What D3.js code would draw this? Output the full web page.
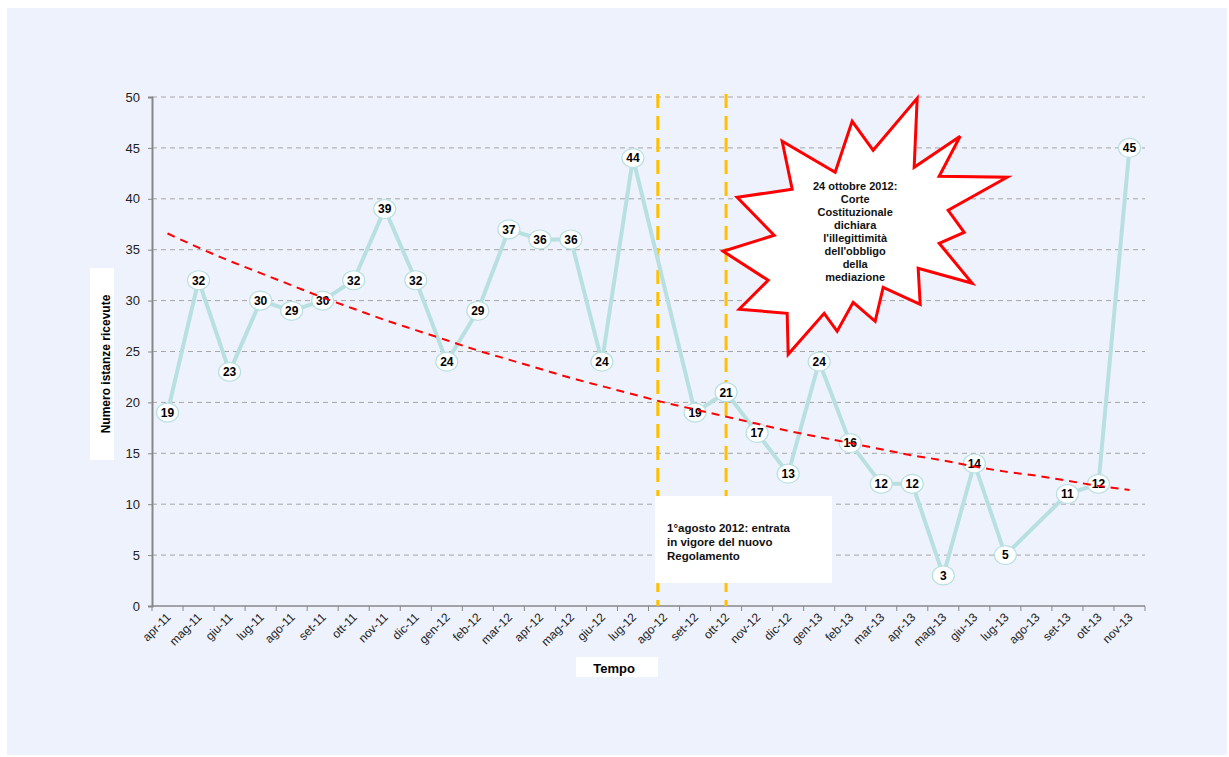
<!DOCTYPE html>
<meta charset="utf-8">
<html>
<head>
	<script src="https://d3js.org/d3.v7.min.js"></script>
	<style>
		body { margin: 0; background: #ffffff; }
		text { font-family: "Liberation Sans", Arial, sans-serif; }
	</style>
</head>
<body>
<div id="chart"></div>
<script>

// months on the x axis
var mesi = ["apr-11","mag-11","giu-11","lug-11","ago-11","set-11","ott-11","nov-11","dic-11",
  "gen-12","feb-12","mar-12","apr-12","mag-12","giu-12","lug-12","ago-12","set-12","ott-12",
  "nov-12","dic-12","gen-13","feb-13","mar-13","apr-13","mag-13","giu-13","lug-13","ago-13",
  "set-13","ott-13","nov-13"];

// numero istanze ricevute (null = no value that month)
var istanze = [19,32,23,30,29,30,32,39,32,24,29,37,36,36,24,44,null,19,21,
  17,13,24,16,12,12,3,14,5,null,11,12,45];

// trend line
var tendenza = [36.6,35.2,33.9,32.7,31.5,30.3,29.2,28.1,27.1,26.1,25.1,24.2,23.3,22.4,21.6,20.8,
  20.0,19.3,18.6,17.9,17.2,16.6,16.0,15.4,14.8,14.3,13.7,13.2,12.8,12.3,11.8,11.4];

var yTicks = [0,5,10,15,20,25,30,35,40,45,50];

var noteAgosto = ["1°agosto 2012: entrata", "in vigore del nuovo", "Regolamento"];
var noteOttobre = ["24 ottobre 2012:", "Corte", "Costituzionale", "dichiara",
  "l'illegittimità", "dell'obbligo", "della", "mediazione"];

var W = 1229, H = 757;
var margin = {top: 97, right: 84, bottom: 151, left: 152};

var svg = d3.select("#chart").append("svg")
  .attr("width", W).attr("height", H);

// panel background
svg.append("rect").attr("x", 7).attr("y", 8).attr("width", W - 9).attr("height", H - 10)
  .attr("fill", "#eef2fd");

var x = d3.scaleBand().domain(mesi).range([margin.left, W - margin.right]);
var y = d3.scaleLinear().domain([0, 50]).range([H - margin.bottom, margin.top]);
var cx = function(m) { return x(m) + x.bandwidth() / 2; };

// gridlines
svg.append("g").selectAll("line").data(yTicks.filter(function(d){ return d > 0; }))
  .enter().append("line")
  .attr("x1", margin.left).attr("x2", W - margin.right)
  .attr("y1", function(d){ return y(d); }).attr("y2", function(d){ return y(d); })
  .attr("stroke", "#a6a6a6").attr("stroke-width", 1).attr("stroke-dasharray", "5,4");

// y axis
var yAxis = svg.append("g").attr("transform", "translate(" + margin.left + ",0)")
  .call(d3.axisLeft(y).tickValues(yTicks).tickSize(4).tickPadding(8));
yAxis.select(".domain").attr("stroke", "#878787").attr("stroke-width", 2);
yAxis.selectAll(".tick line").attr("stroke", "#878787");
yAxis.selectAll("text").attr("font-size", 13).attr("fill", "#222")
  .style("font-family", "Liberation Sans, Arial, sans-serif");

// x axis (ticks on band boundaries)
var xa = svg.append("g");
xa.append("line").attr("x1", margin.left).attr("x2", W - margin.right)
  .attr("y1", y(0)).attr("y2", y(0)).attr("stroke", "#878787").attr("stroke-width", 1.5);
xa.selectAll("line.tk").data(mesi.concat(["_end"])).enter().append("line")
  .attr("class", "tk")
  .attr("x1", function(d, i){ return margin.left + i * x.step(); })
  .attr("x2", function(d, i){ return margin.left + i * x.step(); })
  .attr("y1", y(0)).attr("y2", y(0) + 5)
  .attr("stroke", "#878787");
xa.selectAll("text").data(mesi).enter().append("text")
  .attr("transform", function(d){ return "translate(" + (cx(d) + 4) + "," + (y(0) + 12) + ") rotate(-45)"; })
  .attr("text-anchor", "end")
  .attr("font-size", 12).attr("fill", "#222")
  .text(function(d){ return d; });

// axis titles with white boxes
svg.append("rect").attr("x", 90).attr("y", 268).attr("width", 24).attr("height", 192).attr("fill", "#fff");
svg.append("text").attr("transform", "translate(110,364) rotate(-90)")
  .attr("text-anchor", "middle").attr("font-size", 12).attr("font-weight", "bold")
  .text("Numero istanze ricevute");
svg.append("rect").attr("x", 576).attr("y", 657).attr("width", 82).attr("height", 20).attr("fill", "#fff");
svg.append("text").attr("x", 614).attr("y", 673)
  .attr("text-anchor", "middle").attr("font-size", 13).attr("font-weight", "bold")
  .text("Tempo");

// orange event lines
var eventi = [{m: "ago-12", off: -0.2}, {m: "ott-12", off: 0}];
svg.append("g").selectAll("line").data(eventi).enter().append("line")
  .attr("x1", function(d){ return cx(d.m) + d.off * x.step(); })
  .attr("x2", function(d){ return cx(d.m) + d.off * x.step(); })
  .attr("y1", y(50) - 3).attr("y2", y(0))
  .attr("stroke", "#ffc000").attr("stroke-width", 3).attr("stroke-dasharray", "14,8");

// data series
var punti = mesi.map(function(m, i){ return {m: m, v: istanze[i]}; })
  .filter(function(d){ return d.v !== null; });

var linea = d3.line().x(function(d){ return cx(d.m); }).y(function(d){ return y(d.v); });
svg.append("path").datum(punti).attr("d", linea)
  .attr("fill", "none").attr("stroke", "#b9e0e1").attr("stroke-width", 4)
  .attr("stroke-linejoin", "round");

var marker = svg.append("g").selectAll("g").data(punti).enter().append("g")
  .attr("transform", function(d){ return "translate(" + cx(d.m) + "," + y(d.v) + ")"; });
marker.append("ellipse").attr("rx", 11).attr("ry", 9.5)
  .attr("fill", "#fff").attr("stroke", "#b9e0e1").attr("stroke-width", 1.2);

// trend line
var trendLine = d3.line().x(function(d, i){ return cx(mesi[i]); }).y(function(d){ return y(d); })
  .curve(d3.curveMonotoneX);
svg.append("path").datum(tendenza).attr("d", trendLine)
  .attr("fill", "none").attr("stroke", "#ff0000").attr("stroke-width", 2)
  .attr("stroke-dasharray", "8,6");

marker.append("text").attr("text-anchor", "middle").attr("dy", "0.36em")
  .attr("font-size", 12).attr("font-weight", "bold").attr("fill", "#000")
  .text(function(d){ return d.v; });

// note box: 1 agosto 2012
var boxX = cx("ago-12") - 9, boxY = y(10.8);
svg.append("rect").attr("x", boxX).attr("y", boxY).attr("width", 177).attr("height", 87)
  .attr("fill", "#fff");
svg.append("g").selectAll("text").data(noteAgosto).enter().append("text")
  .attr("x", boxX + 12).attr("y", function(d, i){ return boxY + 36 + i * 14; })
  .attr("font-size", 11.5).attr("font-weight", "bold").attr("fill", "#111")
  .text(function(d){ return d; });

// starburst: 24 ottobre 2012 (offsets from its centre)
var stella = [[52,-128],[49,-59],[95,-90],[74,-50],[142,-49],[83,-16],[99,6],[74,17],[107,57],
  [53,42],[55,78],[18,61],[10,95],[-12,76],[-28,105],[-41,87],[-77,128],[-78,87],[-126,83],
  [-97,54],[-142,25],[-91,9],[-128,-29],[-73,-37],[-83,-85],[-30,-54],[-13,-105],[8,-76]];
var sx = cx("gen-13") + 46, sy = y(37.3);
svg.append("polygon")
  .attr("points", stella.map(function(p){ return (sx + p[0]) + "," + (sy + p[1]); }).join(" "))
  .attr("fill", "#fff").attr("stroke", "#ff0000").attr("stroke-width", 3)
  .attr("stroke-linejoin", "miter");
svg.append("g").selectAll("text").data(noteOttobre).enter().append("text")
  .attr("x", sx - 10).attr("y", function(d, i){ return sy - 36 + i * 13; })
  .attr("text-anchor", "middle").attr("font-size", 11).attr("font-weight", "bold").attr("fill", "#111")
  .text(function(d){ return d; });

</script>
</body>
</html>
